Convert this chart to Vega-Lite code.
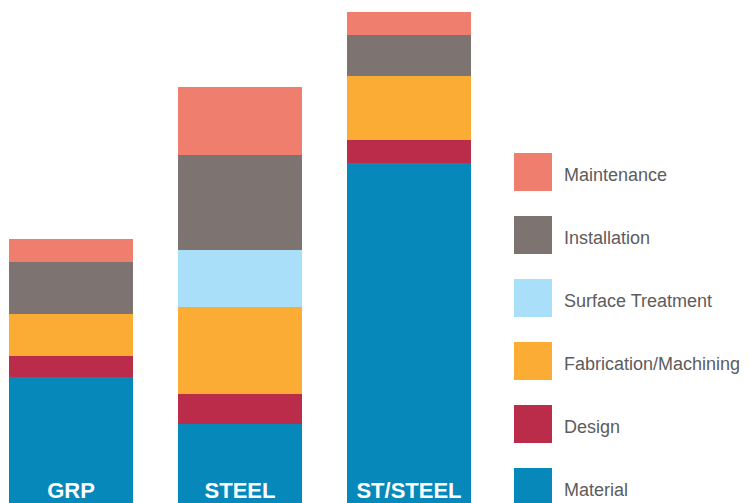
{
  "$schema": "https://vega.github.io/schema/vega-lite/v6.json",
  "width": 750,
  "height": 503,
  "autosize": {"type": "none"},
  "padding": 0,
  "background": "white",
  "config": {"view": {"stroke": null}, "font": "Liberation Sans"},
  "datasets": {
    "costs": [
      {"material": "GRP", "component": "Material", "rank": 1, "value": 126},
      {"material": "GRP", "component": "Design", "rank": 2, "value": 21},
      {"material": "GRP", "component": "Fabrication/Machining", "rank": 3, "value": 42},
      {"material": "GRP", "component": "Surface Treatment", "rank": 4, "value": 0},
      {"material": "GRP", "component": "Installation", "rank": 5, "value": 52},
      {"material": "GRP", "component": "Maintenance", "rank": 6, "value": 23},
      {"material": "STEEL", "component": "Material", "rank": 1, "value": 79},
      {"material": "STEEL", "component": "Design", "rank": 2, "value": 30},
      {"material": "STEEL", "component": "Fabrication/Machining", "rank": 3, "value": 87},
      {"material": "STEEL", "component": "Surface Treatment", "rank": 4, "value": 57},
      {"material": "STEEL", "component": "Installation", "rank": 5, "value": 95},
      {"material": "STEEL", "component": "Maintenance", "rank": 6, "value": 68},
      {"material": "ST/STEEL", "component": "Material", "rank": 1, "value": 340},
      {"material": "ST/STEEL", "component": "Design", "rank": 2, "value": 23},
      {"material": "ST/STEEL", "component": "Fabrication/Machining", "rank": 3, "value": 64},
      {"material": "ST/STEEL", "component": "Surface Treatment", "rank": 4, "value": 0},
      {"material": "ST/STEEL", "component": "Installation", "rank": 5, "value": 41},
      {"material": "ST/STEEL", "component": "Maintenance", "rank": 6, "value": 23}
    ],
    "labels": [
      {"material": "GRP"},
      {"material": "STEEL"},
      {"material": "ST/STEEL"}
    ]
  },
  "encoding": {
    "x": {
      "field": "material",
      "type": "nominal",
      "sort": ["GRP", "STEEL", "ST/STEEL"],
      "axis": null,
      "scale": {"range": [9, 471], "paddingInner": 0.2663, "paddingOuter": 0}
    }
  },
  "layer": [
    {
      "data": {"name": "costs"},
      "mark": {"type": "bar", "stroke": null},
      "encoding": {
        "y": {
          "field": "value",
          "type": "quantitative",
          "stack": "zero",
          "axis": null,
          "scale": {"domain": [0, 503], "nice": false}
        },
        "order": {"field": "rank", "type": "quantitative", "sort": "ascending"},
        "color": {
          "field": "component",
          "type": "nominal",
          "scale": {
            "domain": ["Maintenance", "Installation", "Surface Treatment", "Fabrication/Machining", "Design", "Material"],
            "range": ["#F07E6E", "#7D7370", "#AADFFA", "#FBAC34", "#BA2C49", "#0788BA"]
          },
          "legend": {
            "title": null,
            "orient": "none",
            "legendX": 514,
            "legendY": 157,
            "padding": 0,
            "symbolType": "M-1,-1.21H1V0.79H-1Z",
            "symbolSize": 1444,
            "symbolStrokeWidth": 0,
            "symbolOpacity": 1,
            "rowPadding": 24,
            "labelOffset": 12,
            "labelFont": "Liberation Sans",
            "labelFontSize": 18,
            "labelColor": "#5c5c5c",
            "labelLimit": 300,
            "labelBaseline": "middle"
          }
        }
      }
    },
    {
      "data": {"name": "labels"},
      "mark": {
        "type": "text",
        "color": "white",
        "font": "Liberation Sans",
        "fontWeight": "bold",
        "fontSize": 22,
        "baseline": "alphabetic",
        "align": "center",
        "dy": -5
      },
      "encoding": {
        "y": {"datum": 0, "type": "quantitative"},
        "text": {"field": "material", "type": "nominal"}
      }
    }
  ]
}
